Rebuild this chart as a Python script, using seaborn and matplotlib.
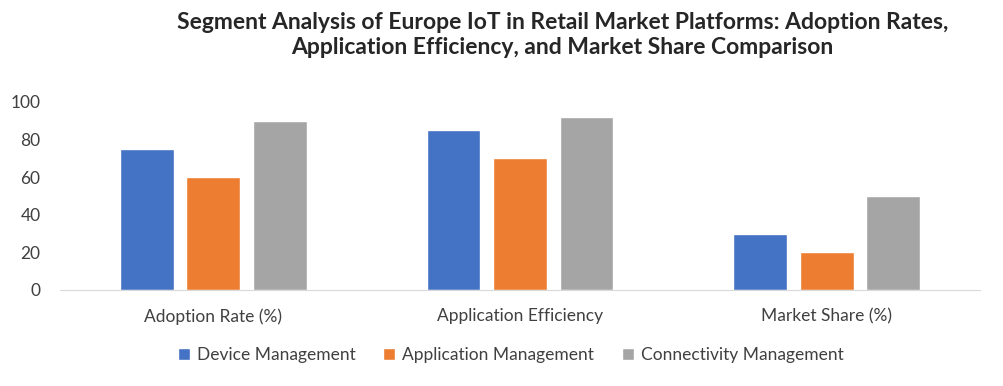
import matplotlib
matplotlib.use("Agg")
import matplotlib.pyplot as plt
import seaborn as sns
import pandas as pd

categories = ["Adoption Rate (%)", "Application Efficiency", "Market Share (%)"]
series = ["Device Management", "Application Management", "Connectivity Management"]
device = [75, 85, 30]
application = [60, 70, 20]
connectivity = [90, 92, 50]
colors = ["#4472C4", "#ED7D31", "#A5A5A5"]

rows = []
for name, vals in zip(series, [device, application, connectivity]):
    for c, v in zip(categories, vals):
        rows.append({"Metric": c, "Segment": name, "Value": v})
df = pd.DataFrame(rows)

sns.set_style("white")
plt.rcParams["font.family"] = ["Lato", "DejaVu Sans"]

fig = plt.figure(figsize=(10.04, 3.86), dpi=100)
ax = fig.add_axes([60 / 1004, 1 - 290 / 386, 920 / 1004, 188 / 386])

sns.barplot(data=df, x="Metric", y="Value", hue="Segment", palette=colors,
            width=0.65, gap=0.19, saturation=1, ax=ax, legend=True)

ax.set_ylim(0, 100)
ax.set_yticks([0, 20, 40, 60, 80, 100])
ax.set_xlabel("")
ax.set_ylabel("")
ax.tick_params(axis="both", labelsize=12.5, colors="#404040", length=0)
ax.tick_params(axis="y", pad=14)
ax.tick_params(axis="x", pad=13)
for s in ["top", "right", "left"]:
    ax.spines[s].set_visible(False)
ax.spines["bottom"].set_color("#D9D9D9")

handles, labels = ax.get_legend_handles_labels()
ax.legend(handles, labels, loc="upper center", bbox_to_anchor=(0.49, -0.22),
          ncol=3, frameon=False, fontsize=12.5, handlelength=0.7, handleheight=0.7,
          columnspacing=1.6, handletextpad=0.4, labelcolor="#404040")

fig.text(0.56, 0.97, "Segment Analysis of Europe IoT in Retail Market Platforms: Adoption Rates,\nApplication Efficiency, and Market Share Comparison",
         ha="center", va="top", fontsize=16.5, fontweight="bold", linespacing=1.25)

fig.savefig("out.png", dpi=100)
